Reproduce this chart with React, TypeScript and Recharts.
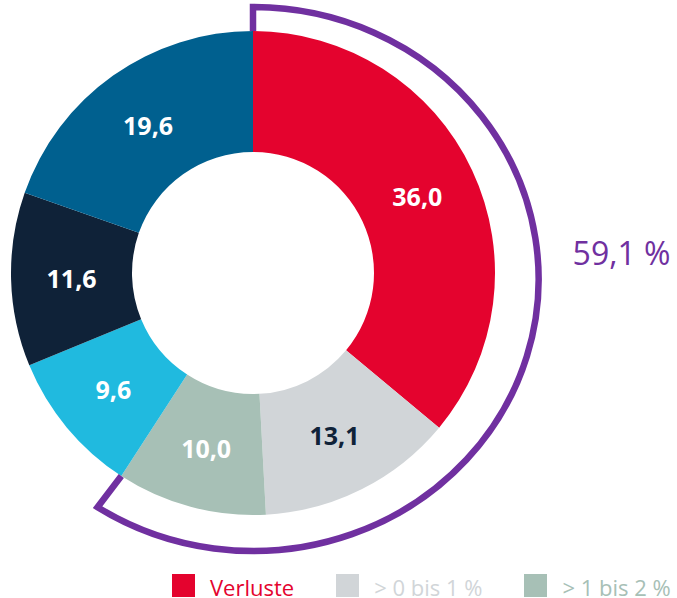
import React from 'react'
import { PieChart, Pie, Cell } from 'recharts'

// shares in %, clockwise from 12 o'clock
const categories = ['Verluste', '> 0 bis 1 %', '> 1 bis 2 %', '> 2 bis 3 %', '> 3 bis 5 %', '> 5 %']
const shares = [36.0, 13.1, 10.0, 9.6, 11.6, 19.6]
const colors = ['#E4032E', '#D1D5D8', '#A7C0B6', '#20BADF', '#0F2238', '#00608F']
const labelColors = ['#FFFFFF', '#0F2238', '#FFFFFF', '#FFFFFF', '#FFFFFF', '#FFFFFF']
// the first three categories are bracketed and shown in the legend
const bracketCount = 3

const data = categories.map((name, i) => ({ name, value: shares[i] }))
const total = shares.reduce((s, v) => s + v, 0)
const bracketValue = shares.slice(0, bracketCount).reduce((s, v) => s + v, 0)
const bracketData = [
  { name: 'bracket', value: bracketValue },
  { name: 'rest', value: total - bracketValue }
]

const RAD = Math.PI / 180
const PURPLE = '#7030A0'
const FONT = '"Open Sans", "DejaVu Sans", sans-serif'

const fmt = (v: number) => v.toFixed(1).replace('.', ',')

function SliceLabel(props: any) {
  const { cx, cy, midAngle, innerRadius, outerRadius, index, value } = props
  const r = (innerRadius + outerRadius) / 2
  const x = cx + r * Math.cos(-midAngle * RAD)
  const y = cy + r * Math.sin(-midAngle * RAD)
  return (
    <text
      x={x}
      y={y}
      fill={labelColors[index]}
      textAnchor="middle"
      dominantBaseline="central"
      style={{ fontFamily: FONT, fontSize: 25, fontWeight: 700 }}
    >
      {fmt(value)}
    </text>
  )
}

// draws the purple bracket round the first slices, plus its total
function BracketLabel(props: any) {
  const { cx, cy, innerRadius, outerRadius, startAngle, endAngle, index, value } = props
  if (index !== 0) return null
  const rx = outerRadius * 1.05
  const ry = outerRadius
  const ocy = cy + 6
  const inner = (a: number) => [cx + innerRadius * Math.cos(-a * RAD), cy + innerRadius * Math.sin(-a * RAD)]
  const outer = (a: number) => [cx + rx * Math.cos(-a * RAD), ocy + ry * Math.sin(-a * RAD)]
  const p0 = inner(startAngle)
  const p1 = outer(startAngle)
  const p2 = outer(endAngle)
  const p3 = inner(endAngle)
  const large = Math.abs(startAngle - endAngle) > 180 ? 1 : 0
  const d = `M${p0[0]},${p0[1]} L${p1[0]},${p1[1]} A${rx},${ry} 0 ${large} 1 ${p2[0]},${p2[1]} L${p3[0]},${p3[1]}`
  return (
    <g>
      <path d={d} fill="none" stroke={PURPLE} strokeWidth={6.5} strokeLinejoin="miter" />
      <text
        x={cx + rx + 34}
        y={cy - 8}
        fill={PURPLE}
        style={{ fontFamily: FONT, fontSize: 32 }}
      >
        {fmt(value)} %
      </text>
    </g>
  )
}

export default function App() {
  return (
    <div style={{ position: 'absolute', left: 0, top: 0, width: 677, height: 598, overflow: 'hidden', background: '#fff' }}>
      <PieChart width={677} height={598} margin={{ top: 0, right: 0, bottom: 0, left: 0 }}>
        <Pie
          data={bracketData}
          dataKey="value"
          cx={253}
          cy={273}
          innerRadius={242}
          outerRadius={272}
          startAngle={90}
          endAngle={-270}
          stroke="none"
          label={BracketLabel}
          labelLine={false}
          isAnimationActive={false}
        >
          {bracketData.map((d, i) => (
            <Cell key={`b-${i}`} fill="none" />
          ))}
        </Pie>
        <Pie
          data={data}
          dataKey="value"
          cx={253}
          cy={273}
          innerRadius={121}
          outerRadius={242}
          startAngle={90}
          endAngle={-270}
          stroke="none"
          label={SliceLabel}
          labelLine={false}
          isAnimationActive={false}
        >
          {data.map((d, i) => (
            <Cell key={`c-${i}`} fill={colors[i]} />
          ))}
        </Pie>
      </PieChart>

      {/* Legend */}
      <div style={{ position: 'absolute', left: 172, top: 574, display: 'flex', gap: 42, fontFamily: FONT, fontSize: 22, whiteSpace: 'nowrap' }}>
        {data.slice(0, bracketCount).map((item, index) => (
          <div key={index} style={{ display: 'flex', alignItems: 'flex-start', gap: 15 }}>
            <div style={{ width: 23, height: 23, background: colors[index] }} />
            <span style={{ color: colors[index], marginTop: 3, lineHeight: '20px' }}>{item.name}</span>
          </div>
        ))}
      </div>
    </div>
  )
}
